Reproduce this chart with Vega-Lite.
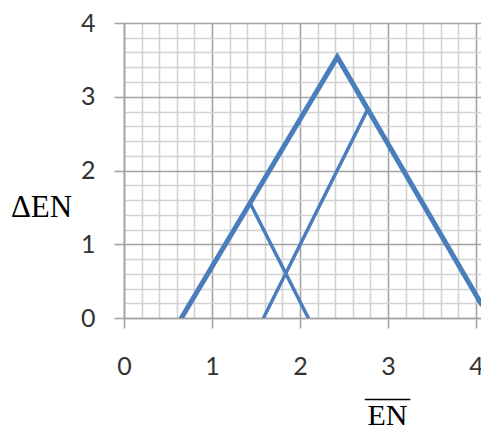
{
  "$schema": "https://vega.github.io/schema/vega-lite/v6.json",
  "autosize": {"type": "none"},
  "padding": {"left": 124, "top": 23, "right": 0, "bottom": 108},
  "width": 357,
  "height": 295,
  "background": "white",
  "config": {"view": {"stroke": null}},
  "data": {
    "values": [
      {"series": "A", "x": 0.652, "y": 0},
      {"series": "A", "x": 2.424, "y": 3.54},
      {"series": "A", "x": 4.06, "y": 0.19},
      {"series": "B", "x": 1.434, "y": 1.555},
      {"series": "B", "x": 2.095, "y": 0},
      {"series": "C", "x": 1.585, "y": 0},
      {"series": "C", "x": 2.77, "y": 2.83}
    ]
  },
  "encoding": {
    "x": {
      "field": "x", "type": "quantitative",
      "scale": {"domain": [0, 4.057], "nice": false, "zero": false},
      "axis": {
        "values": [0,0.2,0.4,0.6,0.8,1,1.2,1.4,1.6,1.8,2,2.2,2.4,2.6,2.8,3,3.2,3.4,3.6,3.8,4],
        "grid": true,
        "gridColor": {"condition": {"test": "datum.value % 1 === 0", "value": "#a3a3a3"}, "value": "#d2d2d2"},
        "gridWidth": 1.6,
        "tickOpacity": {"condition": {"test": "datum.value % 1 === 0", "value": 1}, "value": 0},
        "tickColor": "#a3a3a3",
        "tickSize": 10,
        "tickWidth": 1.6,
        "domainColor": "#a3a3a3",
        "domainWidth": 1.6,
        "labelExpr": "datum.value % 1 === 0 ? format(datum.value, 'd') : ''",
        "labelFont": "Lato",
        "labelFontSize": 25,
        "labelColor": "#333333",
        "labelPadding": 26,
        "labelFlush": false,
        "labelOverlap": false,
        "title": ["___", "EN"],
        "titleFont": "Liberation Serif",
        "titleFontSize": 30,
        "titleFontWeight": "normal",
        "titleColor": "#000000",
        "titleLineHeight": 28,
        "titleX": 263,
        "titleY": 78,
        "titleAlign": "center",
        "titleBaseline": "alphabetic"
      }
    },
    "y": {
      "field": "y", "type": "quantitative",
      "scale": {"domain": [0, 4], "nice": false},
      "axis": {
        "values": [0,0.2,0.4,0.6,0.8,1,1.2,1.4,1.6,1.8,2,2.2,2.4,2.6,2.8,3,3.2,3.4,3.6,3.8,4],
        "grid": true,
        "gridColor": {"condition": {"test": "datum.value % 1 === 0", "value": "#a3a3a3"}, "value": "#d2d2d2"},
        "gridWidth": 1.6,
        "tickOpacity": {"condition": {"test": "datum.value % 1 === 0", "value": 1}, "value": 0},
        "tickColor": "#a3a3a3",
        "tickSize": 10,
        "tickWidth": 1.6,
        "domainColor": "#a3a3a3",
        "domainWidth": 1.6,
        "labelExpr": "datum.value % 1 === 0 ? format(datum.value, 'd') : ''",
        "labelFont": "Lato",
        "labelFontSize": 25,
        "labelColor": "#333333",
        "labelPadding": 19,
        "labelFlush": false,
        "labelOverlap": false,
        "title": "ΔEN",
        "titleFont": "Liberation Serif",
        "titleFontSize": 31,
        "titleFontWeight": "normal",
        "titleColor": "#000000",
        "titleAngle": 0,
        "titleX": -83,
        "titleY": 193,
        "titleAlign": "center",
        "titleBaseline": "alphabetic"
      }
    },
    "detail": {"field": "series"}
  },
  "layer": [
    {
      "transform": [{"filter": "datum.series === 'A'"}],
      "mark": {"type": "line", "color": "#4a7ebb", "strokeWidth": 5, "strokeCap": "round", "clip": true}
    },
    {
      "transform": [{"filter": "datum.series !== 'A'"}],
      "mark": {"type": "line", "color": "#4a7ebb", "strokeWidth": 3.5, "strokeCap": "round", "clip": true}
    }
  ]
}
